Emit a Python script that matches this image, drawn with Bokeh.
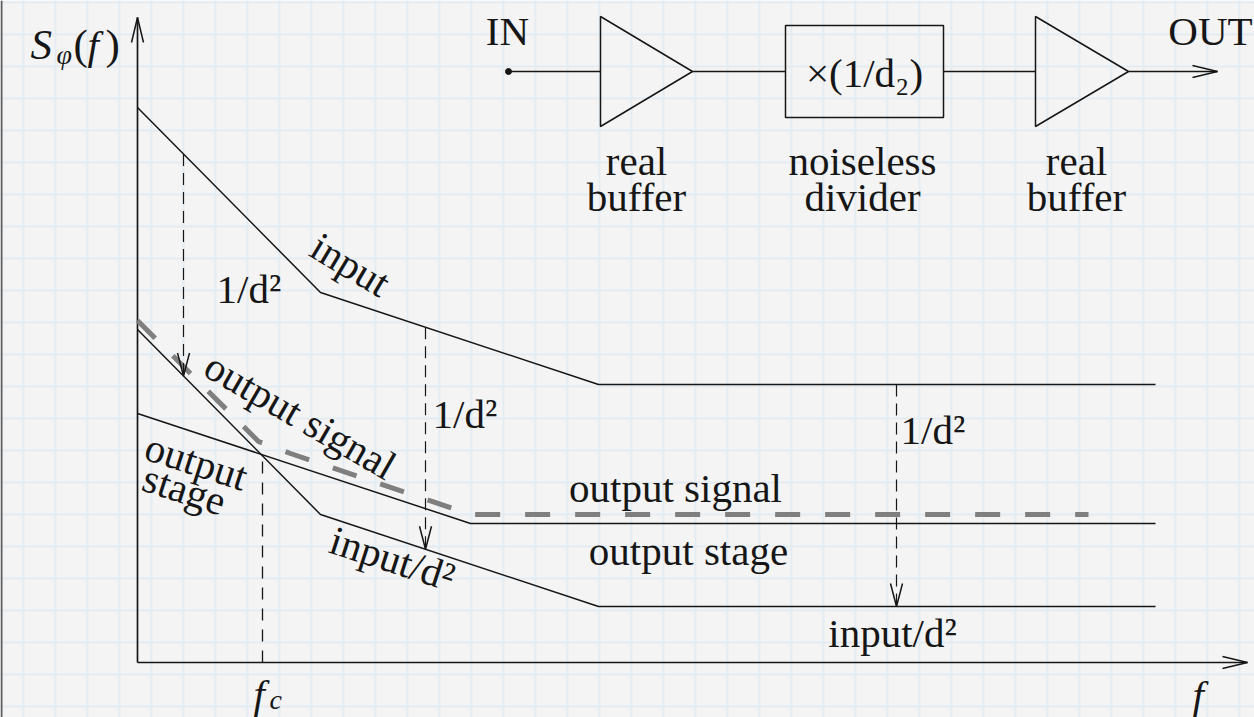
import numpy as np
from bokeh.plotting import figure
from bokeh.models import Range1d
from bokeh.core.properties import value
from bokeh.embed import file_html
from bokeh.resources import INLINE

W, H = 1254, 717
X0, Y0 = 137, 662          # screen position of the axes corner

# ---- phase-noise sketch (plot units, origin at the axes corner) ----
input_f = [0, 183, 461, 1018]
input_level = [555, 370, 278, 278]
divider_drop = 222                      # the 1/d^2 step
stage_f = [0, 333, 1018]
stage_level = [249, 139, 139]
signal_f = [0, 121, 153, 333, 951]
signal_level = [342, 221, 209, 148, 148]
corner_f = 125                          # f_c
step_arrow_f = [46, 288, 759]

# ---- block diagram (same units) ----
chain_level = 591
in_dot_f = 371
buffer_left = [463, 898]
buffer_tip = [555, 991]
buffer_half = 55
box_f = [648, 806]
box_level = [545, 637]
out_tip_f = 1080

INK = "#161616"
FONT = value("Liberation Serif")
FS = "41px"
SUB = "28px"

input_div_level = np.array(input_level) - divider_drop
corner_level = float(np.interp(corner_f, stage_f, stage_level))

p = figure(width=W, height=H, x_range=Range1d(-X0, W - X0), y_range=Range1d(Y0 - H, Y0),
           output_backend="svg", toolbar_location=None, min_border=0,
           x_axis_location=None, y_axis_location=None)
p.grid.visible = False
p.outline_line_color = None
p.background_fill_color = "#f4f4f4"
p.border_fill_color = "#f4f4f4"

# squared-paper background
gx = np.arange(23, W, 32) - X0
gy = Y0 - np.arange(2, H, 32)
p.segment(x0=gx, y0=Y0 - H, x1=gx, y1=Y0, line_color="#e4ecf1", line_width=2)
p.segment(x0=-X0, y0=gy, x1=W - X0, y1=gy, line_color="#e4ecf1", line_width=2)
p.segment(x0=[-136], y0=[Y0 - H], x1=[-136], y1=[Y0], line_color="#5c5c5c", line_width=2)


def open_head(tx, ty, dx, dy, length=25, half=6):
    n = np.hypot(dx, dy)
    ux, uy = dx / n, dy / n
    bx, by = tx - length * ux, ty - length * uy
    return ([bx - half * uy, tx, bx + half * uy], [by + half * ux, ty, by - half * ux])


heads_x, heads_y = [], []

# axes
y_top = 645
x_end = 1110
p.line([0, 0], [0, y_top], line_color=INK, line_width=1.7)
p.line([0, x_end], [0, 0], line_color=INK, line_width=1.7)
for hx, hy in (open_head(0, y_top, 0, 1), open_head(x_end, 0, 1, 0)):
    heads_x.append(hx); heads_y.append(hy)

# spectra
p.line(input_f, input_level, line_color=INK, line_width=1.5)
p.line(input_f, input_div_level, line_color=INK, line_width=1.5)
p.line(stage_f, stage_level, line_color=INK, line_width=1.5)
p.line(signal_f, signal_level, line_color="#7f7f7f", line_width=5, line_dash="25 25")

# corner frequency marker
p.line([corner_f, corner_f], [0, corner_level], line_color=INK, line_width=1.3, line_dash="12 9")

# 1/d^2 steps
for f in step_arrow_f:
    top = float(np.interp(f, input_f, input_level))
    bot = float(np.interp(f, input_f, input_div_level))
    p.line([f, f], [top, bot], line_color=INK, line_width=1.2, line_dash="12 7")
    hx, hy = open_head(f, bot, 0, -1, 23, 6)
    heads_x.append(hx); heads_y.append(hy)

# block diagram
tri_x = [[l, t, l] for l, t in zip(buffer_left, buffer_tip)]
tri_y = [[chain_level + buffer_half, chain_level, chain_level - buffer_half] for _ in buffer_left]
p.patches(tri_x, tri_y, fill_color=None, line_color=INK, line_width=1.5)
p.quad(left=[box_f[0]], right=[box_f[1]], bottom=[box_level[0]], top=[box_level[1]],
       fill_color=None, line_color=INK, line_width=1.5)
wires_x = [[in_dot_f, buffer_left[0]], [buffer_tip[0], box_f[0]], [box_f[1], buffer_left[1]],
           [buffer_tip[1], out_tip_f]]
p.multi_line(wires_x, [[chain_level, chain_level]] * 4, line_color=INK, line_width=1.5)
p.scatter([in_dot_f], [chain_level], size=6, color=INK)
hx, hy = open_head(out_tip_f, chain_level, 1, 0)
heads_x.append(hx); heads_y.append(hy)

p.multi_line(heads_x, heads_y, line_color=INK, line_width=1.5)


def label(x, y, s, size=FS, align="center", angle=0, style="normal"):
    # y is the vertical middle of the text line
    p.text(x=[x], y=[y], text=[s], text_font=FONT, text_font_size=size, text_color=INK,
           text_align=align, text_baseline="middle", angle=np.deg2rad(angle),
           text_font_style=style)


# axis names: S_phi(f), f_c and f
label(-107, Y0 - 44, "S", size="43px", align="left", style="italic")
label(-81, Y0 - 54, "φ", size=SUB, align="left", style="italic")
label(-64, Y0 - 44, "(", size="43px", align="left")
label(-50, Y0 - 44, "f", align="left", style="italic")
label(-32, Y0 - 44, ")", size="43px", align="left")
label(116, Y0 - 693, "f", align="left", style="italic")
label(132, Y0 - 699, "c", size=SUB, align="left", style="italic")
label(1055, Y0 - 694, "f", align="left", style="italic")

# block labels
label(370, Y0 - 30, "IN")
label(1073, Y0 - 30, "OUT")
label(727, Y0 - 72, "×(1/d₂)")
for cx, l1, l2 in ((499, "real", "buffer"), (725, "noiseless", "divider"), (939, "real", "buffer")):
    label(cx, Y0 - 160, l1)
    label(cx, Y0 - 196, l2)

# curve labels
label(213, 398, "input", angle=-31)
label(163, 247, "output signal", angle=-30)
label(59, 201, "output", angle=-18)
label(47, 173, "stage", angle=-18)
label(255, 104, "input/d²", angle=-18)
label(538, Y0 - 487, "output signal")
label(551, Y0 - 550, "output stage")
label(755, Y0 - 632, "input/d²")
label(79, Y0 - 288, "1/d²", align="left")
label(295, Y0 - 413, "1/d²", align="left")
label(763, Y0 - 429, "1/d²", align="left")

open("out.html", "w").write(file_html(p, INLINE))
